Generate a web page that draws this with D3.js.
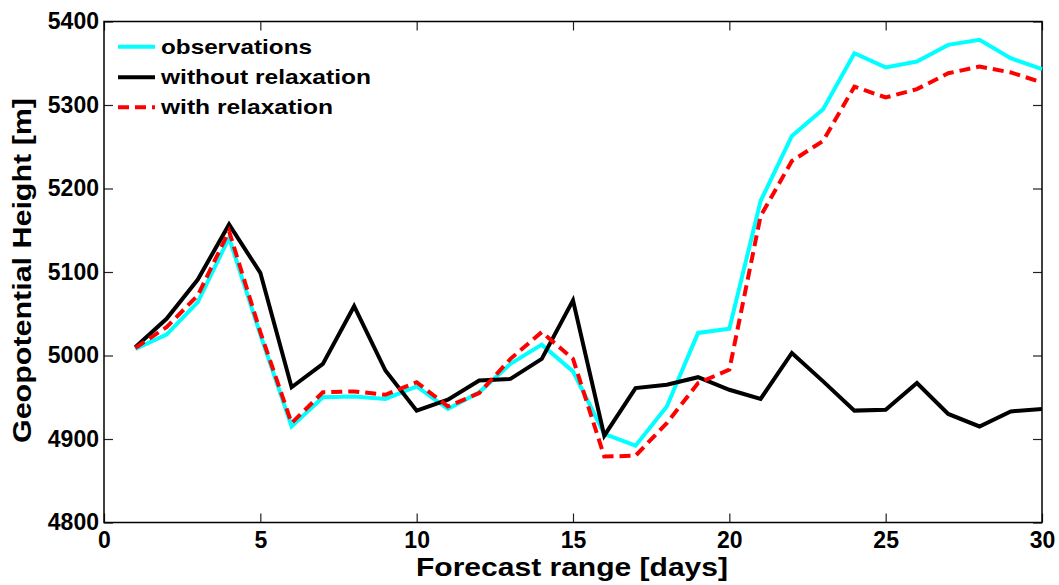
<!DOCTYPE html>
<html>
<head>
<meta charset="UTF-8">
<title>Geopotential Height</title>
<script src="https://cdn.jsdelivr.net/npm/d3@7"></script>
<style>
  body { margin: 0; background: #fff; }
  svg text { font-family: "Liberation Sans", Arial, sans-serif; font-weight: bold; fill: #000; }
</style>
</head>
<body>
<div id="chart"></div>
<script>
// forecast days and the three curves
var days = d3.range(1, 31);
var observations = [5008, 5025, 5064, 5141, 5025, 4915, 4950, 4951, 4948, 4963,
                    4936, 4956, 4990, 5013, 4981, 4906, 4892, 4939, 5027, 5032,
                    5185, 5263, 5295, 5362, 5345, 5352, 5372, 5378, 5356, 5343];
var withoutRelax = [5010, 5044, 5091, 5157, 5099, 4962, 4990, 5059, 4982, 4934,
                    4947, 4970, 4972, 4996, 5066, 4904, 4961, 4965, 4974, 4959,
                    4948, 5003, 4969, 4934, 4935, 4967, 4930, 4915, 4933, 4936];
var withRelax    = [5009, 5034, 5072, 5149, 5028, 4919, 4956, 4957, 4953, 4968,
                    4939, 4955, 4996, 5028, 4996, 4879, 4880, 4919, 4967, 4983,
                    5167, 5233, 5257, 5322, 5309, 5319, 5338, 5346, 5339, 5327];
var xTicks = [0, 5, 10, 15, 20, 25, 30];
var yTicks = [4800, 4900, 5000, 5100, 5200, 5300, 5400];
var seriesNames = ["observations", "without relaxation", "with relaxation"];

var width = 1059, height = 585;
var plotLeft = 104, plotRight = 1042, plotTop = 21.5, plotBottom = 522.5;

var svg = d3.select("#chart").append("svg")
    .attr("width", width)
    .attr("height", height);

var x = d3.scaleLinear().domain([0, 30]).range([plotLeft, plotRight]);
var y = d3.scaleLinear().domain([4800, 5400]).range([plotBottom, plotTop]);

// axes, ticks pointing inward like matlab
var tickFont = 23;
svg.append("g")
    .attr("transform", "translate(0," + plotBottom + ")")
    .call(d3.axisBottom(x).tickValues(xTicks).tickFormat(d3.format("d"))
        .tickSizeInner(-9).tickSizeOuter(0).tickPadding(9))
    .call(function(g) {
        g.select(".domain").remove();
        g.selectAll("text").style("font-size", tickFont + "px");
    });
svg.append("g")
    .attr("transform", "translate(0," + plotTop + ")")
    .call(d3.axisTop(x).tickValues(xTicks).tickSizeInner(-9).tickSizeOuter(0).tickFormat(""))
    .call(function(g) { g.select(".domain").remove(); });
svg.append("g")
    .attr("transform", "translate(" + plotLeft + ",0)")
    .call(d3.axisLeft(y).tickValues(yTicks).tickFormat(d3.format("d"))
        .tickSizeInner(-9).tickSizeOuter(0).tickPadding(5))
    .call(function(g) {
        g.select(".domain").remove();
        g.selectAll("text").style("font-size", tickFont + "px");
    });
svg.append("g")
    .attr("transform", "translate(" + plotRight + ",0)")
    .call(d3.axisRight(y).tickValues(yTicks).tickSizeInner(-9).tickSizeOuter(0).tickFormat(""))
    .call(function(g) { g.select(".domain").remove(); });

svg.selectAll(".tick line").attr("stroke", "#222").attr("stroke-width", 1.2);

svg.append("rect")
    .attr("x", plotLeft)
    .attr("y", plotTop)
    .attr("width", plotRight - plotLeft)
    .attr("height", plotBottom - plotTop)
    .attr("fill", "none")
    .attr("stroke", "#000")
    .attr("stroke-width", 1.5);

// curves
var line = d3.line()
    .x(function(d, i) { return x(days[i]); })
    .y(function(d) { return y(d); });

var styles = [
    { data: observations, color: "#00ffff", dash: null },
    { data: withoutRelax, color: "#000000", dash: null },
    { data: withRelax, color: "#ff0000", dash: "11,6" }
];

styles.forEach(function(s) {
    svg.append("path")
        .datum(s.data)
        .attr("d", line)
        .attr("fill", "none")
        .attr("stroke", s.color)
        .attr("stroke-width", 4)
        .attr("stroke-linejoin", "miter")
        .attr("stroke-dasharray", s.dash);
});

// legend
var legendRows = [46.7, 77.3, 107.3];
var legendWidths = [151, 210, 172];
styles.forEach(function(s, i) {
    svg.append("line")
        .attr("x1", 118).attr("x2", 155)
        .attr("y1", legendRows[i]).attr("y2", legendRows[i])
        .attr("stroke", s.color)
        .attr("stroke-width", 4)
        .attr("stroke-dasharray", s.dash);
    svg.append("text")
        .attr("x", 161)
        .attr("y", legendRows[i] + 7)
        .attr("textLength", legendWidths[i])
        .attr("lengthAdjust", "spacingAndGlyphs")
        .style("font-size", "21px")
        .text(seriesNames[i]);
});

// axis titles
svg.append("text")
    .attr("x", 572)
    .attr("y", 576)
    .attr("text-anchor", "middle")
    .attr("textLength", 312)
    .attr("lengthAdjust", "spacingAndGlyphs")
    .style("font-size", "25px")
    .text("Forecast range [days]");

svg.append("text")
    .attr("transform", "translate(31,270.5) rotate(-90)")
    .attr("text-anchor", "middle")
    .attr("textLength", 345)
    .attr("lengthAdjust", "spacingAndGlyphs")
    .style("font-size", "25px")
    .text("Geopotential Height [m]");
</script>
</body>
</html>
